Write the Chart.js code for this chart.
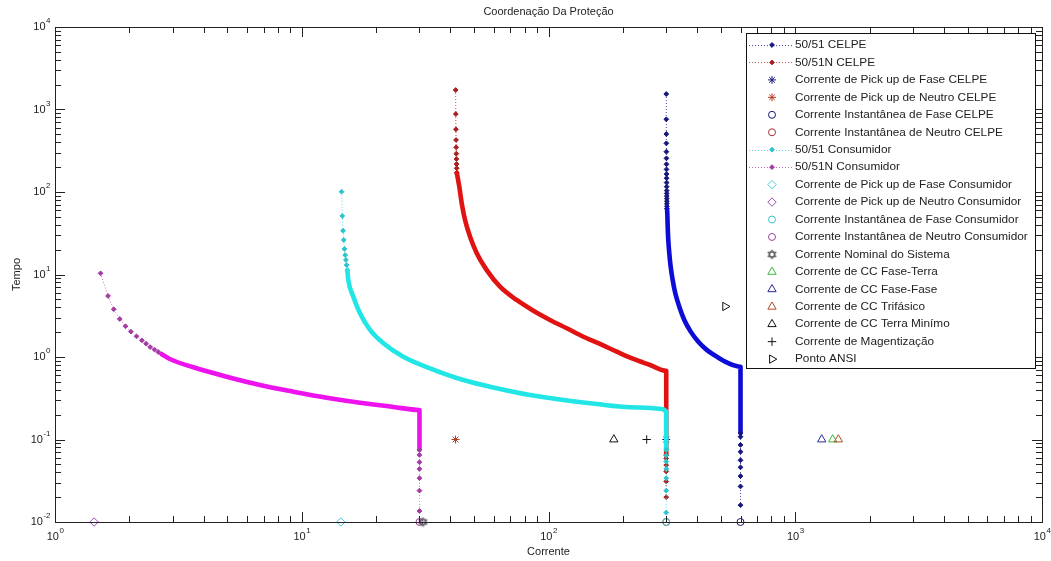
<!DOCTYPE html>
<html>
<head>
<meta charset="utf-8">
<title>Coordenação Da Proteção</title>
<script src="https://cdn.jsdelivr.net/npm/chart.js@4.4.0/dist/chart.umd.min.js"></script>
<style>
  html, body { margin: 0; padding: 0; background: #fff; }
  canvas { display: block; }
</style>
</head>
<body>
<canvas id="coord" width="1051" height="561"></canvas>
<script>
// curvas tempo x corrente, pares [corrente, tempo]
// cauda = pontos esparsos perto do pick-up, corpo = trecho denso, queda = trecho instantaneo
const celpeFaseCauda = [[300.1,1541],[300.2,761],[300.3,505],[300.4,389],[300.5,308],[300.6,256],[300.7,217],[300.8,188],[300.9,165],[301.0,147],[301.1,130],[301.2,116],[301.3,104],[301.4,96],[301.5,89],[301.6,83],[301.7,77],[301.8,72],[301.9,67],[302.0,63]];
const celpeFaseCorpo = [[303,55.2],[304.1,38],[305.8,26.2],[308.7,18.1],[312.7,12.4],[318.6,8.58],[326.5,5.92],[338.9,4.07],[355.1,2.81],[377,2.03],[404.7,1.53],[437.7,1.22],[480.5,1.01],[530.4,0.853],[600,0.763],[600,0.12]];
const celpeFaseQueda = [[600,0.108],[600,0.086],[600,0.071],[600,0.056],[600,0.046],[600,0.036],[600,0.027],[600,0.016]];

const celpeNeutroCauda = [[42.05,1723],[42.1,882],[42.15,575],[42.2,427],[42.25,348],[42.3,291],[42.35,251],[42.4,218],[42.45,194],[42.5,171]];
const celpeNeutroCorpo = [[43.5,115.9],[44.5,72.9],[45.9,45.8],[48.1,28.7],[51.2,18.1],[56.2,11.3],[63.6,7.11],[74.3,4.91],[86.8,3.64],[101.4,2.81],[118.5,2.23],[138.4,1.76],[161.7,1.44],[189,1.16],[220.7,0.946],[257.8,0.8],[300,0.68],[300,0.065]];
const celpeNeutroQueda = [[300,0.059],[300,0.049],[300,0.041],[300,0.031],[300,0.020]];

const consFaseCauda = [[14.5,100.8],[14.6,51.2],[14.7,33.9],[14.8,26.2],[14.9,20.4],[15.0,17.2],[15.1,15.0],[15.2,13.0],[15.3,11.3]];
const consFaseCorpo = [[15.44,8.58],[16.18,5.38],[17.22,3.39],[18.91,2.13],[21.41,1.47],[25.79,1.01],[33.1,0.729],[45.15,0.526],[61.67,0.418],[84.14,0.346],[114.8,0.301],[156.8,0.269],[213.9,0.246],[291.9,0.232],[300,0.22],[300,0.075]];
const consFaseQueda = [[300,0.064],[300,0.054],[300,0.044],[300,0.034],[300,0.024],[300,0.013]];

const consNeutroCauda = [[1.53,10.34],[1.64,5.49],[1.73,3.79],[1.83,2.89],[1.93,2.36],[2.03,2.03],[2.14,1.78],[2.25,1.59],[2.34,1.45],[2.43,1.32],[2.53,1.23],[2.62,1.15],[2.71,1.08]];
const consNeutroCorpo = [[2.92,0.946],[3.64,0.75],[4.96,0.577],[6.77,0.458],[9.24,0.38],[12.62,0.321],[17.22,0.279],[23.5,0.248],[30,0.228],[30,0.075]];
const consNeutroQueda = [[30,0.065],[30,0.053],[30,0.044],[30,0.034],[30,0.024],[30,0.0136]];

const curvaNomes = ['50/51 CELPE', '50/51N CELPE', '50/51 Consumidor', '50/51N Consumidor'];

// pontos isolados
const pontoNomes = [
  'Corrente de Pick up de Fase CELPE',
  'Corrente de Pick up de Neutro CELPE',
  'Corrente Instantânea de Fase CELPE',
  'Corrente Instantânea de Neutro CELPE',
  'Corrente de Pick up de Fase Consumidor',
  'Corrente de Pick up de Neutro Consumidor',
  'Corrente Instantânea de Fase Consumidor',
  'Corrente Instantânea de Neutro Consumidor',
  'Corrente Nominal do Sistema',
  'Corrente de CC Fase-Terra',
  'Corrente de CC Fase-Fase',
  'Corrente de CC Trifásico',
  'Corrente de CC Terra Minímo',
  'Corrente de Magentização',
  'Ponto ANSI'
];
const pontoCorrente = [300, 42, 600, 300, 14.4, 1.44, 300, 30, 31, 1418, 1280, 1495, 184, 250, 520];
const pontoTempo = [0.1, 0.1, 0.01, 0.01, 0.01, 0.01, 0.01, 0.01, 0.01, 0.1, 0.1, 0.1, 0.1, 0.1, 4.1];

const xTicks = [0, 1, 2, 3, 4];       // expoentes de 10
const yTicks = [-2, -1, 0, 1, 2, 3, 4];

// ---- estilos ----
const FONTE = '11px "Liberation Sans", Arial, sans-serif';
const FONTE_LEG = '11.8px "Liberation Sans", Arial, sans-serif';
const FONTE_EXP = '8px "Liberation Sans", Arial, sans-serif';
const COR_TEXTO = '#222';

const curvaEstilos = [
  { cheia: '#0c0cd6', marca: '#17177e', linha: '#4a4aa8' },
  { cheia: '#e01212', marca: '#a82222', linha: '#c05050' },
  { cheia: '#22e6e6', marca: '#2cc4cc', linha: '#60d8e0' },
  { cheia: '#ee12ee', marca: '#a43ca4', linha: '#c070c8' }
];

function hexagrama(cor) {
  const cv = document.createElement('canvas');
  cv.width = cv.height = 11;
  const g = cv.getContext('2d');
  g.strokeStyle = cor;
  g.lineWidth = 1;
  for (const off of [-Math.PI / 2, Math.PI / 2]) {
    g.beginPath();
    for (let k = 0; k < 3; k++) {
      const a = off + k * 2 * Math.PI / 3;
      const px = 5.5 + 4.6 * Math.cos(a), py = 5.5 + 4.6 * Math.sin(a);
      if (k) g.lineTo(px, py); else g.moveTo(px, py);
    }
    g.closePath();
    g.stroke();
  }
  return cv;
}

const pontoEstilos = [
  { forma: 'star', cor: '#1a1a80', raio: 4 },
  { forma: 'star', cor: '#b83a22', raio: 4 },
  { forma: 'circle', cor: '#1a1a80', raio: 3.5 },
  { forma: 'circle', cor: '#a83030', raio: 3.5 },
  { forma: 'rectRot', cor: '#48c8e0', raio: 4.2 },
  { forma: 'rectRot', cor: '#a050b8', raio: 4.2 },
  { forma: 'circle', cor: '#38c4d4', raio: 3.5 },
  { forma: 'circle', cor: '#a040a0', raio: 3.5 },
  { forma: hexagrama('#444'), cor: '#444', raio: 4.5 },
  { forma: 'triangle', cor: '#3cb43c', raio: 4.8 },
  { forma: 'triangle', cor: '#2a2aa0', raio: 4.8 },
  { forma: 'triangle', cor: '#b04a2a', raio: 4.8 },
  { forma: 'triangle', cor: '#111', raio: 4.8 },
  { forma: 'cross', cor: '#111', raio: 4.2 },
  { forma: 'triangle', cor: '#111', raio: 4.8, rot: 90 }
];

const curvas = [
  [celpeFaseCauda, celpeFaseCorpo, celpeFaseQueda],
  [celpeNeutroCauda, celpeNeutroCorpo, celpeNeutroQueda],
  [consFaseCauda, consFaseCorpo, consFaseQueda],
  [consNeutroCauda, consNeutroCorpo, consNeutroQueda]
];

const xy = arr => arr.map(p => ({ x: p[0], y: p[1] }));

const datasets = [];
const legenda = [];

function addCurva(i) {
  const est = curvaEstilos[i];
  const [cauda, corpo, queda] = curvas[i];
  legenda.push(datasets.length);
  datasets.push({
    label: curvaNomes[i], data: xy(cauda), showLine: true, clip: false,
    borderColor: est.linha, borderWidth: 1, borderDash: [1, 2],
    pointStyle: 'rectRot', pointRadius: 2.4, pointBorderWidth: 1,
    pointBackgroundColor: est.marca, pointBorderColor: est.marca
  });
  datasets.push({
    data: xy([cauda[cauda.length - 1]].concat(corpo)), showLine: true, clip: false,
    borderColor: est.cheia, borderWidth: 4.6, borderJoinStyle: 'round', borderCapStyle: 'round',
    cubicInterpolationMode: 'monotone', pointRadius: 0
  });
  datasets.push({
    data: xy([corpo[corpo.length - 1]].concat(queda)), showLine: true, clip: false,
    borderColor: est.linha, borderWidth: 1, borderDash: [1, 2],
    pointStyle: 'rectRot', pointRadius: 2.4, pointBorderWidth: 1,
    pointBackgroundColor: est.marca, pointBorderColor: est.marca
  });
}

function addPonto(k) {
  const est = pontoEstilos[k];
  legenda.push(datasets.length);
  datasets.push({
    label: pontoNomes[k], data: [{ x: pontoCorrente[k], y: pontoTempo[k] }],
    showLine: false, clip: false,
    pointStyle: est.forma, pointRadius: est.raio, rotation: est.rot || 0,
    pointBorderWidth: 1, pointBorderColor: est.cor,
    pointBackgroundColor: 'rgba(0,0,0,0)'
  });
}

// mesma ordem do legend do matlab
addCurva(0); addCurva(1);
for (let k = 0; k < 4; k++) addPonto(k);
addCurva(2); addCurva(3);
for (let k = 4; k < pontoNomes.length; k++) addPonto(k);
// ultimo plotado fica por cima
datasets.forEach((d, i) => { d.order = -i; });

function potencia(ctx, e, x, y, alinhamento) {
  ctx.font = FONTE;
  const wb = ctx.measureText('10').width;
  ctx.font = FONTE_EXP;
  const we = ctx.measureText(String(e)).width;
  const x0 = alinhamento === 'center' ? x - (wb + we) / 2 : x - (wb + we);
  ctx.textAlign = 'left';
  ctx.textBaseline = 'middle';
  ctx.font = FONTE;
  ctx.fillText('10', x0, y);
  ctx.font = FONTE_EXP;
  ctx.fillText(String(e), x0 + wb + 0.5, y - 6);
}

const eixosMatlab = {
  id: 'eixosMatlab',
  afterDraw(chart) {
    const ctx = chart.ctx;
    const { left, right, top, bottom } = chart.chartArea;
    const xs = chart.scales.x, ys = chart.scales.y;
    ctx.save();
    ctx.strokeStyle = '#222';
    ctx.lineWidth = 1;
    ctx.beginPath();
    for (let e = xTicks[0]; e <= xTicks[xTicks.length - 1]; e++) {
      for (let m = 1; m <= 9; m++) {
        const v = m * Math.pow(10, e);
        if (v > xs.max) break;
        const px = Math.round(xs.getPixelForValue(v)) + 0.5;
        const len = m === 1 ? 10 : 6;
        ctx.moveTo(px, bottom); ctx.lineTo(px, bottom - len);
        ctx.moveTo(px, top); ctx.lineTo(px, top + len);
      }
    }
    for (let e = yTicks[0]; e <= yTicks[yTicks.length - 1]; e++) {
      for (let m = 1; m <= 9; m++) {
        const v = m * Math.pow(10, e);
        if (v > ys.max) break;
        const py = Math.round(ys.getPixelForValue(v)) + 0.5;
        const len = m === 1 ? 10 : 6;
        ctx.moveTo(left, py); ctx.lineTo(left + len, py);
        ctx.moveTo(right, py); ctx.lineTo(right - len, py);
      }
    }
    ctx.stroke();
    ctx.strokeRect(Math.round(left) + 0.5, Math.round(top) + 0.5, Math.round(right - left), Math.round(bottom - top));

    ctx.fillStyle = COR_TEXTO;
    xTicks.forEach(e => potencia(ctx, e, xs.getPixelForValue(Math.pow(10, e)), bottom + 15, 'center'));
    yTicks.forEach(e => potencia(ctx, e, left - 5, ys.getPixelForValue(Math.pow(10, e)), 'right'));

    ctx.font = FONTE;
    ctx.textAlign = 'center';
    ctx.textBaseline = 'middle';
    ctx.fillText('Coordenação Da Proteção', (left + right) / 2, 12);
    ctx.fillText('Corrente', (left + right) / 2, 552);
    ctx.translate(17, (top + bottom) / 2);
    ctx.rotate(-Math.PI / 2);
    ctx.fillText('Tempo', 0, 0);
    ctx.restore();

    // legenda dentro do eixo
    ctx.save();
    const bx = 746, by = 33, bw = 289, bh = 335;
    ctx.fillStyle = '#fff';
    ctx.fillRect(bx, by, bw, bh);
    ctx.strokeStyle = '#111';
    ctx.strokeRect(bx + 0.5, by + 0.5, bw, bh);
    legenda.forEach((idx, i) => {
      const ds = chart.data.datasets[idx];
      const y = 45 + i * 17.45;
      if (ds.showLine) {
        ctx.save();
        ctx.strokeStyle = ds.borderColor;
        ctx.lineWidth = 1;
        ctx.setLineDash([1, 2]);
        ctx.beginPath();
        ctx.moveTo(749, Math.round(y) + 0.5);
        ctx.lineTo(792, Math.round(y) + 0.5);
        ctx.stroke();
        ctx.restore();
      }
      ctx.fillStyle = ds.pointBackgroundColor;
      ctx.strokeStyle = ds.pointBorderColor;
      ctx.lineWidth = ds.pointBorderWidth;
      Chart.helpers.drawPoint(ctx, {
        pointStyle: ds.pointStyle, rotation: ds.rotation || 0,
        radius: ds.pointRadius, borderWidth: ds.pointBorderWidth
      }, 772, y);
      ctx.fillStyle = COR_TEXTO;
      ctx.font = FONTE_LEG;
      ctx.textAlign = 'left';
      ctx.textBaseline = 'middle';
      ctx.fillText(ds.label, 795, y);
    });
    ctx.restore();
  }
};

new Chart(document.getElementById('coord'), {
  type: 'scatter',
  data: { datasets },
  options: {
    responsive: false,
    animation: false,
    devicePixelRatio: 1,
    events: [],
    layout: { padding: { left: 55, top: 27, right: 9, bottom: 39 } },
    plugins: { legend: { display: false }, tooltip: { enabled: false }, title: { display: false } },
    scales: {
      x: { type: 'logarithmic', min: 1, max: 10000, display: false },
      y: { type: 'logarithmic', min: 0.01, max: 10000, display: false }
    }
  },
  plugins: [eixosMatlab]
});
</script>
</body>
</html>
